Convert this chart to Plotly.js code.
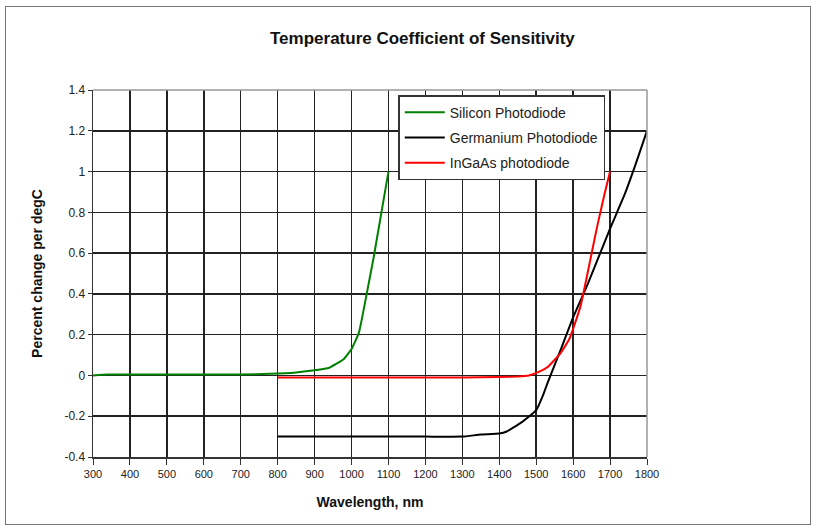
<!DOCTYPE html>
<html>
<head>
<meta charset="utf-8">
<script src="https://cdn.plot.ly/plotly-3.0.1.min.js"></script>
<style>
  html, body { margin: 0; padding: 0; background: #fff; }
  #wrap { position: relative; width: 825px; height: 529px; }
  #chart { position: absolute; left: 0; top: 0; width: 825px; height: 529px; }
  #frame { position: absolute; left: 5px; top: 6px; width: 804px; height: 517px;
           border: 1.5px solid #777; pointer-events: none; }
</style>
</head>
<body>
<div id="wrap">
  <div id="chart"></div>
  <div id="frame"></div>
</div>
<script>
// Silicon Photodiode
const siliconX = [300, 340, 400, 500, 600, 700, 780, 850, 900, 940, 980, 1000, 1020, 1040, 1060, 1080, 1100];
const siliconY = [0.0, 0.005, 0.005, 0.005, 0.005, 0.005, 0.008, 0.015, 0.025, 0.038, 0.082, 0.13, 0.21, 0.39, 0.58, 0.79, 1.0];

// Germanium Photodiode
const germaniumX = [800, 900, 1000, 1100, 1200, 1300, 1350, 1400, 1420, 1460, 1500, 1520, 1530, 1565, 1600, 1640, 1670, 1700, 1740, 1770, 1800];
const germaniumY = [-0.3, -0.3, -0.3, -0.3, -0.3, -0.3, -0.29, -0.285, -0.275, -0.23, -0.17, -0.09, -0.04, 0.12, 0.285, 0.45, 0.585, 0.72, 0.89, 1.04, 1.2];

// InGaAs photodiode
const ingaasX = [800, 900, 1000, 1100, 1200, 1300, 1400, 1450, 1480, 1510, 1530, 1565, 1590, 1620, 1640, 1665, 1685, 1700];
const ingaasY = [-0.01, -0.01, -0.01, -0.01, -0.01, -0.01, -0.008, -0.005, 0.0, 0.02, 0.04, 0.107, 0.18, 0.34, 0.51, 0.73, 0.89, 1.0];

const seriesNames = ["Silicon Photodiode", "Germanium Photodiode", "InGaAs photodiode"];
const seriesColors = ["#008000", "#000000", "#ff0000"];

const xTicks = [300, 400, 500, 600, 700, 800, 900, 1000, 1100, 1200, 1300, 1400, 1500, 1600, 1700, 1800];
const yTicks = [-0.4, -0.2, 0, 0.2, 0.4, 0.6, 0.8, 1, 1.2, 1.4];
const yTickText = ["-0.4", "-0.2", "0", "0.2", "0.4", "0.6", "0.8", "1", "1.2", "1.4"];

const xs = [siliconX, germaniumX, ingaasX];
const ys = [siliconY, germaniumY, ingaasY];

const traces = xs.map((x, i) => ({
  x: x, y: ys[i], type: "scatter", mode: "lines",
  name: seriesNames[i], legendgroup: "g" + i,
  line: { color: seriesColors[i], width: 2, shape: "spline", smoothing: 0.4 }
}));

const fontFam = "Liberation Sans, Arial, sans-serif";

const layout = {
  width: 825, height: 529,
  margin: { l: 93, r: 178, t: 90, b: 72, pad: 0 },
  paper_bgcolor: "#ffffff", plot_bgcolor: "#ffffff",
  font: { family: fontFam, color: "#000" },
  title: { text: "<b>Temperature Coefficient of Sensitivity</b>",
           font: { size: 17, family: fontFam, color: "#111" },
           x: 0.512, xanchor: "center", y: 0.928, yanchor: "middle" },
  showlegend: true,
  legend: {
    x: 0.551, y: 0.986, xanchor: "left", yanchor: "top",
    bgcolor: "#fff", bordercolor: "#333", borderwidth: 1.5,
    font: { size: 14, family: fontFam, color: "#222" },
    traceorder: "grouped", tracegroupgap: 4, itemwidth: 40
  },
  xaxis: {
    range: [300, 1800], tickvals: xTicks, ticktext: xTicks.map(String),
    showgrid: true, gridcolor: "#222", gridwidth: 1.5,
    zeroline: false, showline: true, linecolor: "#333", linewidth: 1.5, mirror: false,
    ticks: "outside", ticklen: 6, tickcolor: "#333",
    tickfont: { size: 11, family: fontFam, color: "#222" },
    title: { text: "<b>Wavelength, nm</b>", font: { size: 14, family: fontFam, color: "#111" }, standoff: 18 }
  },
  yaxis: {
    range: [-0.4, 1.4], tickvals: yTicks, ticktext: yTickText,
    showgrid: true, gridcolor: "#222", gridwidth: 1.5,
    zeroline: false, showline: true, linecolor: "#333", linewidth: 1.5,
    ticks: "outside", ticklen: 4, tickcolor: "#333",
    tickfont: { size: 12, family: fontFam, color: "#222" },
    title: { text: "<b>Percent change per degC</b>", font: { size: 14, family: fontFam, color: "#111" }, standoff: 18 }
  },
  shapes: [
    { type: "line", xref: "paper", yref: "paper", x0: 1, x1: 1, y0: 0, y1: 1, line: { color: "#999", width: 1.5 } },
    { type: "line", xref: "paper", yref: "paper", x0: 0, x1: 1, y0: 1, y1: 1, line: { color: "#999", width: 1.5 } }
  ]
};

Plotly.newPlot("chart", traces, layout, { staticPlot: true, displayModeBar: false });
</script>
</body>
</html>
